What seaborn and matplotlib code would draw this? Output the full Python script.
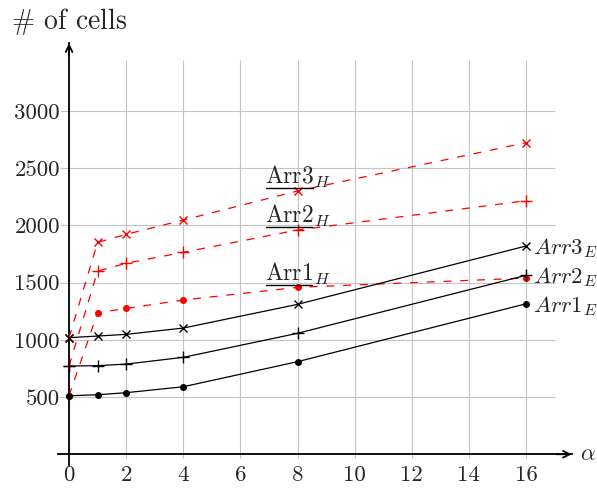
"""Number of cells vs alpha for the Arr variants."""

import matplotlib.pyplot as plt
import seaborn as sns
from matplotlib.lines import Line2D
from matplotlib.transforms import IdentityTransform

alpha = [0, 1, 2, 4, 8, 16]
arr1_e = [511, 520, 538, 590, 809, 1315]
arr2_e = [771, 774, 788, 847, 1057, 1564]
arr3_e = [1019, 1033, 1048, 1103, 1310, 1820]
arr1_h = [511, 1237, 1275, 1348, 1459, 1540]
arr2_h = [771, 1601, 1669, 1765, 1960, 2216]
arr3_h = [1019, 1852, 1922, 2047, 2301, 2723]

x_ticks = [0, 2, 4, 6, 8, 10, 12, 14, 16]
y_ticks = [500, 1000, 1500, 2000, 2500, 3000]

e_series = [(arr1_e, "o", r"$Arr1_E$"), (arr2_e, "+", r"$Arr2_E$"), (arr3_e, "x", r"$Arr3_E$")]
h_series = [(arr1_h, "o", "Arr1"), (arr2_h, "+", "Arr2"), (arr3_h, "x", "Arr3")]
marker_sizes = {"o": 4.0, "+": 9, "x": 5.8}

sns.set_theme(style="white")
plt.rcParams["font.family"] = "serif"
plt.rcParams["font.serif"] = ["cmr10"]
plt.rcParams["mathtext.fontset"] = "cm"
plt.rcParams["axes.formatter.use_mathtext"] = True
FS = 16.5

fig = plt.figure(figsize=(5.97, 4.91), dpi=100)
ax = fig.add_axes([0.0972, 0.0525, 0.8604, 0.8593])
ax.set_xlim(-0.385, 17.6)
ax.set_ylim(-96, 3592)

# grid restricted like pgfplots
grid_kw = dict(color="#c4c4c4", lw=0.8, zorder=0)
ax.vlines(x_ticks, -30, 3446, **grid_kw)
ax.hlines(y_ticks, -0.31, 17.0, **grid_kw)

for vals, mk, _ in h_series:
    sns.lineplot(x=alpha, y=vals, ax=ax, color="red", lw=0.9, marker=mk,
                 markersize=marker_sizes[mk], markeredgecolor="red",
                 markeredgewidth=1.0, dashes=False, zorder=3)
    ax.lines[-1].set_dashes((6.4, 7))
for vals, mk, _ in e_series:
    sns.lineplot(x=alpha, y=vals, ax=ax, color="black", lw=0.9, marker=mk,
                 markersize=marker_sizes[mk], markeredgecolor="black",
                 markeredgewidth=1.0, zorder=4)

# axes lines with arrows through origin
for side in ["top", "right"]:
    ax.spines[side].set_visible(False)
for side in ["left", "bottom"]:
    ax.spines[side].set_position(("data", 0))
    ax.spines[side].set_color("black")
    ax.spines[side].set_linewidth(1.3)
ax.annotate("", xy=(1, 0), xytext=(0.97, 0), xycoords=ax.get_yaxis_transform(),
            arrowprops=dict(arrowstyle="->", lw=1.3, color="black", shrinkA=0, shrinkB=0))
ax.annotate("", xy=(0, 1), xytext=(0, 0.97), xycoords=ax.get_xaxis_transform(),
            arrowprops=dict(arrowstyle="->", lw=1.3, color="black", shrinkA=0, shrinkB=0))

ax.set_xticks(x_ticks)
ax.set_yticks(y_ticks)
ax.set_xticklabels([str(v) for v in x_ticks], fontsize=FS)
ax.set_yticklabels([str(v) for v in y_ticks], fontsize=FS)
ax.tick_params(axis="x", length=0, pad=8)
ax.tick_params(axis="y", length=0, pad=6.5)

ax.annotate(r"$\#$ of cells", xy=(0, 1), xycoords=ax.get_xaxis_transform(),
            xytext=(0, 10.5), textcoords="offset points", ha="center",
            va="baseline", fontsize=20)
ax.annotate(r"$\alpha$", xy=(1, 0), xycoords=ax.get_yaxis_transform(),
            xytext=(6, 0), textcoords="offset points", ha="left", va="center",
            fontsize=FS)

for vals, _, label in e_series:
    ax.annotate(label, xy=(alpha[-1], vals[-1]), xytext=(5, -1.5),
                textcoords="offset points", ha="left", va="center", fontsize=FS)

h_texts = []
for vals, _, name in h_series:
    t = ax.annotate(r"$\mathrm{%s}_H$" % name, xy=(alpha[4], vals[4]),
                    xytext=(0, 4.7), textcoords="offset points", ha="center",
                    va="baseline", fontsize=17, zorder=5)
    h_texts.append((t, name, vals[4]))

# underline the Arr part of the H labels
fig.canvas.draw()
renderer = fig.canvas.get_renderer()
for t, name, yv in h_texts:
    bb = t.get_window_extent(renderer)
    tmp = ax.text(0, 0, r"$\mathrm{%s}$" % name, fontsize=17)
    w = tmp.get_window_extent(renderer).width
    tmp.remove()
    base = ax.transData.transform((alpha[4], yv))[1] + 4.7 * fig.dpi / 72
    yl = base - 4
    fig.add_artist(Line2D([bb.x0 + 1, bb.x0 + w - 1], [yl, yl], lw=1.0,
                          color="black", transform=IdentityTransform()))

fig.savefig("out.png", dpi=100)
